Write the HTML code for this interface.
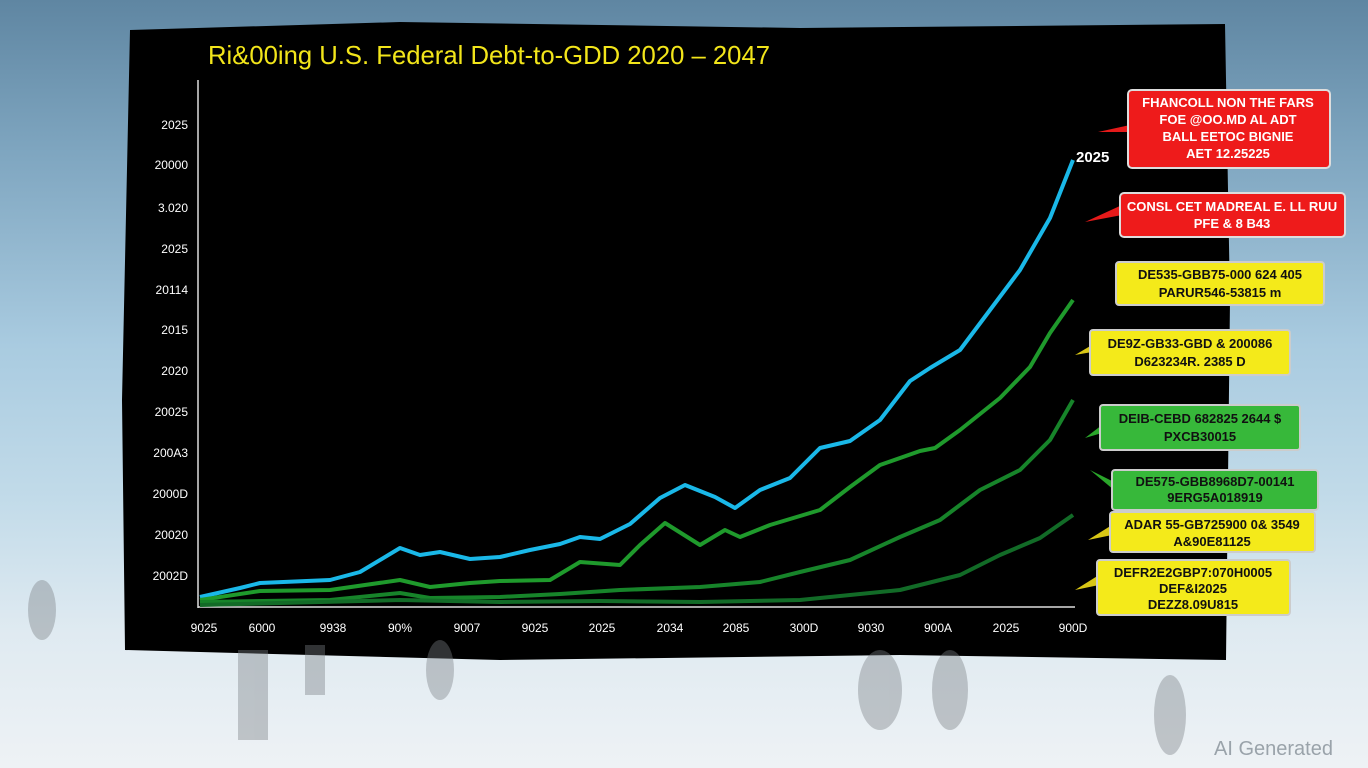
<!DOCTYPE html>
<html><head><meta charset="utf-8"><style>
html,body{margin:0;padding:0;width:1368px;height:768px;overflow:hidden}
body{background:linear-gradient(180deg,#5f86a2 0%,#7fa6c0 20%,#a9cbe0 45%,#c2dbe9 65%,#dfeaf1 82%,#eef2f5 100%);font-family:"Liberation Sans",sans-serif}
svg{position:absolute;left:0;top:0}
</style></head><body>
<svg width="1368" height="768" viewBox="0 0 1368 768">
<polygon points="130,30 400,22 800,28 1225,24 1230,300 1226,660 900,655 500,660 125,650 122,400" fill="#000"/>
<text x="208" y="64" fill="#f2e51a" font-size="26" font-family="Liberation Sans" textLength="562" lengthAdjust="spacingAndGlyphs">Ri&amp;00ing U.S. Federal Debt-to-GDD 2020 – 2047</text>
<line x1="198" y1="80" x2="198" y2="608" stroke="#ddd" stroke-width="1.5"/>
<line x1="198" y1="607" x2="1075" y2="607" stroke="#ddd" stroke-width="1.5"/>
<g fill="#fff" font-size="12" text-anchor="end">
<text x="188" y="129">2025</text><text x="188" y="169">20000</text><text x="188" y="212">3.020</text><text x="188" y="253">2025</text><text x="188" y="294">20114</text><text x="188" y="334">2015</text><text x="188" y="375">2020</text><text x="188" y="416">20025</text><text x="188" y="457">200A3</text><text x="188" y="498">2000D</text><text x="188" y="539">20020</text><text x="188" y="580">2002D</text>
</g>
<g fill="#fff" font-size="12" text-anchor="middle">
<text x="204" y="632">9025</text><text x="262" y="632">6000</text><text x="333" y="632">9938</text><text x="400" y="632">90%</text><text x="467" y="632">9007</text><text x="535" y="632">9025</text><text x="602" y="632">2025</text><text x="670" y="632">2034</text><text x="736" y="632">2085</text><text x="804" y="632">300D</text><text x="871" y="632">9030</text><text x="938" y="632">900A</text><text x="1006" y="632">2025</text><text x="1073" y="632">900D</text>
</g>
<g fill="none" stroke-width="4" stroke-linejoin="round">
<polyline stroke="#1ab8e8" points="200,597 240,588 260,583 330,580 360,572 400,548 420,555 440,552 470,559 500,557 530,550 560,544 580,537 600,539 630,524 660,498 685,485 715,497 735,508 760,490 790,478 820,448 850,441 880,420 910,381 930,368 960,350 990,310 1020,270 1050,218 1073,160"/>
<polyline stroke="#1f9a2c" points="200,600 260,591 330,590 400,580 430,587 470,583 500,581 550,580 580,562 620,565 640,545 665,523 700,545 725,530 740,537 770,525 820,510 850,487 880,465 920,451 935,448 960,430 1000,398 1030,367 1050,333 1073,300"/>
<polyline stroke="#17842a" points="200,602 330,600 400,593 430,598 500,597 560,594 620,590 700,587 760,582 800,572 850,560 900,537 940,520 980,490 1020,470 1050,440 1073,400"/>
<polyline stroke="#126b27" points="200,605 400,600 500,602 600,601 700,602 800,600 900,590 960,575 1000,555 1040,538 1073,515"/>
</g>
<text x="1076" y="162" fill="#fff" font-size="15" font-weight="bold">2025</text>
<g font-size="13" font-weight="bold" text-anchor="middle">
<polygon points="1130,125 1098,132 1130,132" fill="#e51a1a"/>
<rect x="1128" y="90" width="202" height="78" rx="4" fill="#ee1b1b" stroke="#ddd" stroke-width="2"/>
<text x="1228" y="107" fill="#fff">FHANCOLL NON THE FARS</text><text x="1228" y="124" fill="#fff">FOE @OO.MD AL ADT</text><text x="1228" y="141" fill="#fff">BALL EETOC BIGNIE</text><text x="1228" y="158" fill="#fff">AET 12.25225</text>
<polygon points="1122,205 1085,222 1122,215" fill="#e51a1a"/>
<rect x="1120" y="193" width="225" height="44" rx="4" fill="#ee1b1b" stroke="#ddd" stroke-width="2"/>
<text x="1232" y="211" fill="#fff">CONSL CET MADREAL E. LL RUU</text><text x="1232" y="228" fill="#fff">PFE &amp; 8 B43</text>
<rect x="1116" y="262" width="208" height="43" rx="3" fill="#f4ea1a" stroke="#ccc" stroke-width="2"/>
<text x="1220" y="279" fill="#111">DE535-GBB75-000 624 405</text><text x="1220" y="297" fill="#111">PARUR546-53815 m</text>
<polygon points="1092,345 1075,355 1092,352" fill="#d8c615"/>
<rect x="1090" y="330" width="200" height="45" rx="3" fill="#f4ea1a" stroke="#ccc" stroke-width="2"/>
<text x="1190" y="348" fill="#111">DE9Z-GB33-GBD &amp; 200086</text><text x="1190" y="366" fill="#111">D623234R. 2385 D</text>
<polygon points="1102,425 1085,438 1102,433" fill="#2aa52a"/>
<rect x="1100" y="405" width="200" height="45" rx="3" fill="#37b83a" stroke="#ccc" stroke-width="2"/>
<text x="1200" y="423" fill="#111">DEIB-CEBD 682825 2644 $</text><text x="1200" y="441" fill="#111">PXCB30015</text>
<polygon points="1114,482 1090,470 1114,490" fill="#2aa52a"/>
<rect x="1112" y="470" width="206" height="40" rx="3" fill="#37b83a" stroke="#ccc" stroke-width="2"/>
<text x="1215" y="486" fill="#111">DE575-GBB8968D7-00141</text><text x="1215" y="502" fill="#111">9ERG5A018919</text>
<polygon points="1112,525 1088,540 1112,535" fill="#d8c615"/>
<rect x="1110" y="512" width="205" height="40" rx="3" fill="#f4ea1a" stroke="#ccc" stroke-width="2"/>
<text x="1212" y="529" fill="#111">ADAR 55-GB725900 0&amp; 3549</text><text x="1212" y="546" fill="#111">A&amp;90E81125</text>
<polygon points="1099,575 1075,590 1099,585" fill="#d8c615"/>
<rect x="1097" y="560" width="193" height="55" rx="3" fill="#f4ea1a" stroke="#ccc" stroke-width="2"/>
<text x="1193" y="577" fill="#111">DEFR2E2GBP7:070H0005</text><text x="1193" y="593" fill="#111">DEF&amp;I2025</text><text x="1193" y="609" fill="#111">DEZZ8.09U815</text>
</g>
<g fill="#7a7f84" opacity="0.4">
<ellipse cx="42" cy="610" rx="14" ry="30"/><rect x="238" y="650" width="30" height="90"/><rect x="305" y="645" width="20" height="50"/><ellipse cx="440" cy="670" rx="14" ry="30"/><ellipse cx="880" cy="690" rx="22" ry="40"/><ellipse cx="950" cy="690" rx="18" ry="40"/><ellipse cx="1170" cy="715" rx="16" ry="40"/>
</g>
<text x="1214" y="755" fill="#9aa3aa" font-size="20">AI Generated</text>
</svg>
</body></html>
